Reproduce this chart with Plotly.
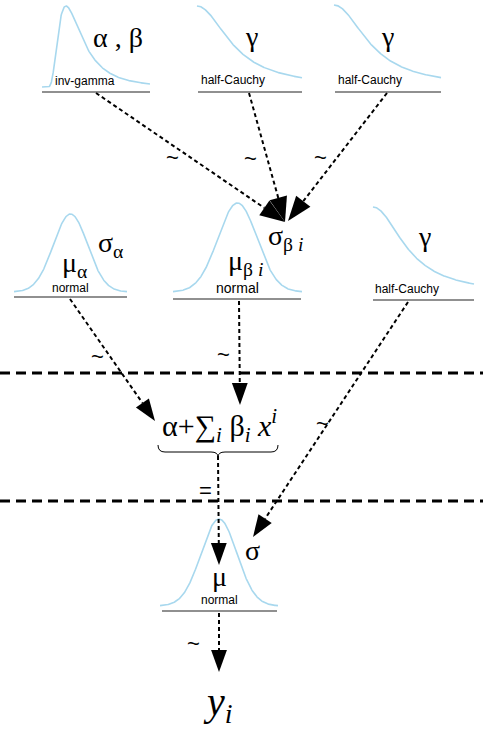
import numpy as np
import plotly.graph_objects as go

W, H = 483, 729
CURVE = "#a8d8ee"
SERIF = "Liberation Serif"
SANS = "Liberation Sans"

# distribution icons (pixel layout of the diagram)
icon_kind = ["invgamma", "halfcauchy", "halfcauchy", "normal", "normal", "halfcauchy", "normal"]
icon_left = [42, 197, 334, 14, 173, 373, 160]
icon_right = [150, 302, 441, 127, 302, 474, 278]
icon_top = [6, 6, 5, 214, 203, 207, 519]
icon_zero = [87, 87, 87, 292, 292, 294, 606]
line_left = [42, 198, 335, 14, 173, 373, 162]
line_right = [150, 302, 441, 127, 301, 474, 277]
line_y = [92, 92, 92, 297, 299, 300, 611]
icon_label = ["inv-gamma", "half-Cauchy", "half-Cauchy", "normal", "normal", "half-Cauchy", "normal"]
label_x = [85, 233, 370, 70, 237, 407, 219]
label_y = [81, 80, 80, 288, 288, 289, 600]
label_size = [12, 12, 12, 12, 14, 12, 12]

# parameter symbols
sym_text = ["α , β", "γ", "γ", "σ<sub>α</sub>", "μ<sub>α</sub>",
            "μ<sub>β <i>i</i></sub>", "σ<sub>β <i>i</i></sub>", "γ", "σ", "μ"]
sym_x = [118, 251, 387, 110, 74, 245, 285, 424, 252, 219]
sym_y = [37, 36, 36, 244, 264, 262, 237, 236, 550, 576]
sym_size = [28, 28, 28, 28, 28, 28, 28, 28, 28, 28]

# tildes
tilde_x = [172, 250, 320, 97, 223, 322, 193]
tilde_y = [157, 158, 157, 356, 354, 423, 643]

# arrows
arrow_x0 = [96, 249, 387, 70, 239, 408, 218, 219]
arrow_y0 = [93, 93, 93, 299, 301, 302, 456, 613]
arrow_x1 = [285, 285, 288, 155, 240, 253, 219, 219]
arrow_y1 = [222, 222, 221, 421, 405, 537, 565, 672]
arrow_len = [25, 25, 25, 22, 22, 22, 22, 22]

# level separators
sep_y = [373, 501]


def curve(kind, t):
    if kind == "normal":
        z = (t - 0.5) * 6.6
        f = np.exp(-0.5 * z ** 2)
    elif kind == "halfcauchy":
        f = 1.0 / (1.0 + (t / 0.36) ** 2)
    else:
        tt = np.clip(t, 1e-3, None)
        f = tt ** -4.5 * np.exp(-1.0 / tt)
    return f / f.max()


fig = go.Figure()
t = np.linspace(0, 1, 300)
for k in range(len(icon_kind)):
    f = curve(icon_kind[k], t)
    xs = icon_left[k] + t * (icon_right[k] - icon_left[k])
    ys = icon_zero[k] - f * (icon_zero[k] - icon_top[k])
    fig.add_trace(go.Scatter(x=xs, y=ys, mode="lines", line=dict(color=CURVE, width=1.6),
                             hoverinfo="skip", showlegend=False))
    fig.add_shape(type="line", x0=line_left[k], x1=line_right[k], y0=line_y[k], y1=line_y[k],
                  line=dict(color="#222222", width=1.2))
    fig.add_annotation(x=label_x[k], y=label_y[k], text=icon_label[k], showarrow=False,
                       font=dict(family=SANS, size=label_size[k], color="black"))

for k in range(len(sym_text)):
    fig.add_annotation(x=sym_x[k], y=sym_y[k], text=sym_text[k], showarrow=False,
                       font=dict(family=SERIF, size=sym_size[k], color="black"))

for k in range(len(tilde_x)):
    fig.add_annotation(x=tilde_x[k], y=tilde_y[k], text="~", showarrow=False,
                       font=dict(family=SANS, size=22, color="black"))

for k in range(len(arrow_x0)):
    x0, y0, x1, y1 = arrow_x0[k], arrow_y0[k], arrow_x1[k], arrow_y1[k]
    L = np.hypot(x1 - x0, y1 - y0)
    ux, uy = (x1 - x0) / L, (y1 - y0) / L
    hl = arrow_len[k]
    hw = hl * 0.36
    bx, by = x1 - ux * hl, y1 - uy * hl
    px, py = -uy, ux
    fig.add_shape(type="line", x0=x0, y0=y0, x1=bx, y1=by,
                  line=dict(color="black", width=2, dash="4px,3px"))
    fig.add_shape(type="path",
                  path=f"M {x1},{y1} L {bx + px * hw},{by + py * hw} L {bx - px * hw},{by - py * hw} Z",
                  fillcolor="black", line=dict(color="black", width=0))

for y in sep_y:
    fig.add_shape(type="line", x0=0, x1=W, y0=y, y1=y,
                  line=dict(color="black", width=3, dash="10px,6px"))

# linear predictor with brace
fig.add_annotation(x=219, y=425,
                   text="α+∑<sub><i>i</i></sub> β<sub><i>i</i></sub> <i>x</i><sup><i>i</i></sup>",
                   showarrow=False, font=dict(family=SERIF, size=30, color="black"))
fig.add_shape(type="path",
              path="M 158,445 Q 158,452 165,452 L 211,452 Q 218,452 218,457 "
                   "Q 218,452 225,452 L 271,452 Q 278,452 278,445",
              line=dict(color="black", width=1))
fig.add_annotation(x=205, y=490, text="=", showarrow=False,
                   font=dict(family=SANS, size=22, color="black"))

fig.add_annotation(x=218, y=704, text="<i>y</i><sub><i>i</i></sub>", showarrow=False,
                   font=dict(family=SERIF, size=40, color="black"))

fig.update_layout(width=W, height=H, margin=dict(l=0, r=0, t=0, b=0),
                  paper_bgcolor="white", plot_bgcolor="white", showlegend=False,
                  xaxis=dict(range=[0, W], visible=False, fixedrange=True),
                  yaxis=dict(range=[H, 0], visible=False, fixedrange=True))
fig.write_html("out.html", config={"displayModeBar": False},
               post_script="document.body.style.margin='0';document.body.style.overflow='hidden';")
